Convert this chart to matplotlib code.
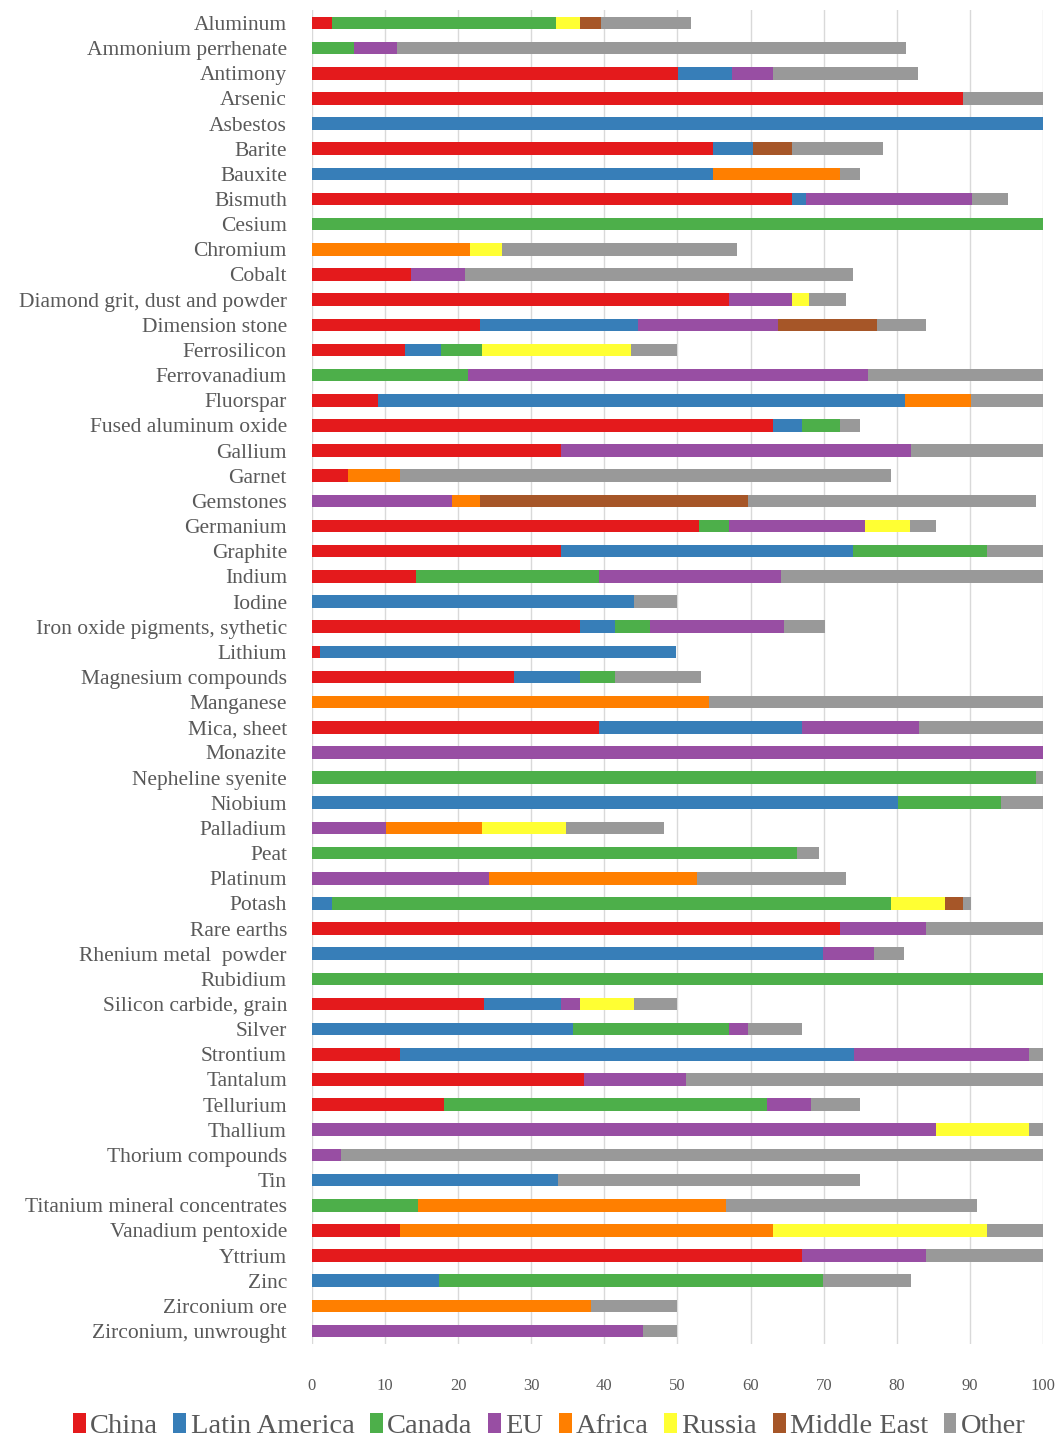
import matplotlib.pyplot as plt
import numpy as np

plt.rcParams['font.family'] = ['Liberation Serif', 'DejaVu Serif']

minerals = ["Aluminum", "Ammonium perrhenate", "Antimony", "Arsenic", "Asbestos", "Barite",
            "Bauxite", "Bismuth", "Cesium", "Chromium", "Cobalt", "Diamond grit, dust and powder",
            "Dimension stone", "Ferrosilicon", "Ferrovanadium", "Fluorspar", "Fused aluminum oxide",
            "Gallium", "Garnet", "Gemstones", "Germanium", "Graphite", "Indium", "Iodine",
            "Iron oxide pigments, sythetic", "Lithium", "Magnesium compounds", "Manganese",
            "Mica, sheet", "Monazite", "Nepheline syenite", "Niobium", "Palladium", "Peat",
            "Platinum", "Potash", "Rare earths", "Rhenium metal  powder", "Rubidium",
            "Silicon carbide, grain", "Silver", "Strontium", "Tantalum", "Tellurium", "Thallium",
            "Thorium compounds", "Tin", "Titanium mineral concentrates", "Vanadium pentoxide",
            "Yttrium", "Zinc", "Zirconium ore", "Zirconium, unwrought"]

china = [2.7, 0, 50.1, 89.1, 0, 54.9, 0, 65.7, 0, 0, 13.6, 57.0, 23.0, 12.7, 0, 9.1, 63.1,
         34.1, 4.9, 0, 53.0, 34.1, 14.2, 0, 36.6, 1.1, 27.7, 0, 39.3, 0, 0, 0, 0, 0, 0, 0,
         72.2, 0, 0, 23.5, 0, 12.0, 37.2, 18.1, 0, 0, 0, 0, 12.0, 67.0, 0, 0, 0]
latin_america = [0, 0, 7.3, 0, 100, 5.4, 54.9, 1.9, 0, 0, 0, 0, 21.6, 5.0, 0, 72.0, 3.9,
                 0, 0, 0, 0, 39.9, 0, 44.0, 4.8, 48.7, 8.9, 0, 27.7, 0, 0, 80.2, 0, 0, 0, 2.7,
                 0, 69.9, 0, 10.6, 35.7, 62.1, 0, 0, 0, 0, 33.7, 0, 0, 0, 17.4, 0, 0]
canada = [30.7, 5.8, 0, 0, 0, 0, 0, 0, 100, 0, 0, 0, 0, 5.5, 21.3, 0, 5.2,
          0, 0, 0, 4.0, 18.3, 25.1, 0, 4.8, 0, 4.8, 0, 0, 0, 99.1, 14.1, 0, 66.4, 0, 76.5,
          0, 0, 100, 0, 21.3, 0, 0, 44.1, 0, 0, 0, 14.5, 0, 0, 52.5, 0, 0]
eu = [0, 5.9, 5.7, 0, 0, 0, 0, 22.7, 0, 0, 7.3, 8.7, 19.2, 0, 54.7, 0, 0,
      47.9, 0, 19.1, 18.6, 0, 24.9, 0, 18.3, 0, 0, 0, 16.0, 100, 0, 0, 10.1, 0, 24.2, 0,
      11.8, 7.0, 0, 2.5, 2.7, 24.0, 13.9, 6.1, 85.3, 4.0, 0, 0, 0, 17.0, 0, 0, 45.3]
africa = [0, 0, 0, 0, 0, 0, 17.3, 0, 0, 21.6, 0, 0, 0, 0, 0, 9.0, 0,
          0, 7.1, 3.9, 0, 0, 0, 0, 0, 0, 0, 54.3, 0, 0, 0, 0, 13.1, 0, 28.4, 0,
          0, 0, 0, 0, 0, 0, 0, 0, 0, 0, 0, 42.1, 51.1, 0, 0, 38.2, 0]
russia = [3.2, 0, 0, 0, 0, 0, 0, 0, 0, 4.4, 0, 2.3, 0, 20.5, 0, 0, 0,
          0, 0, 0, 6.2, 0, 0, 0, 0, 0, 0, 0, 0, 0, 0, 0, 11.5, 0, 0, 7.4,
          0, 0, 0, 7.4, 0, 0, 0, 0, 12.8, 0, 0, 0, 29.2, 0, 0, 0, 0]
middle_east = [2.9, 0, 0, 0, 0, 5.4, 0, 0, 0, 0, 0, 0, 13.5, 0, 0, 0, 0,
               0, 0, 36.7, 0, 0, 0, 0, 0, 0, 0, 0, 0, 0, 0, 0, 0, 0, 0, 2.5,
               0, 0, 0, 0, 0, 0, 0, 0, 0, 0, 0, 0, 0, 0, 0, 0, 0]
other = [12.4, 69.6, 19.8, 10.9, 0, 12.4, 2.8, 4.9, 0, 32.1, 53.1, 5.1, 6.7, 6.3, 24.0, 9.9, 2.8,
         18.0, 67.2, 39.3, 3.5, 7.7, 35.8, 6.0, 5.7, 0, 11.8, 45.7, 17.0, 0, 0.9, 5.7, 13.4, 2.9,
         20.5, 1.0, 16.0, 4.1, 0, 6.0, 7.3, 1.9, 48.9, 6.7, 1.9, 96.0, 41.3, 34.4, 7.7, 16.0,
         12.1, 11.8, 4.7]

regions = ["China", "Latin America", "Canada", "EU", "Africa", "Russia", "Middle East", "Other"]
colors = ["#E41A1C", "#377EB8", "#4DAF4A", "#984EA3", "#FF7F00", "#FFFF33", "#A65628", "#999999"]
series = [china, latin_america, canada, eu, africa, russia, middle_east, other]

fig = plt.figure(figsize=(10.6, 14.39), dpi=100)
ax = fig.add_axes([0.2943, 0.0663, 0.6897, 0.9265])

y = np.arange(len(minerals))
left = np.zeros(len(minerals))
for vals, name, col in zip(series, regions, colors):
    vals = np.array(vals)
    ax.barh(y, vals, left=left, height=0.5, color=col, label=name, zorder=3)
    left += vals

ax.set_ylim(len(minerals) - 0.5, -0.5)
ax.set_xlim(0, 100)
ax.set_xticks(np.arange(0, 101, 10))
ax.set_yticks(y)
ax.set_yticklabels(minerals, fontsize=15.5, color="#595959")
ax.tick_params(axis='x', labelsize=12, colors="#595959", length=0, pad=25)
ax.tick_params(axis='y', length=0, pad=18)
ax.grid(axis='x', color="#d9d9d9", linewidth=1, zorder=0)
for s in ax.spines.values():
    s.set_visible(False)

fig.legend(loc='lower center', bbox_to_anchor=(0.518, -0.018), ncol=8, frameon=False,
           fontsize=20.5, handlelength=0.45, handleheight=0.7, handletextpad=0.15,
           columnspacing=0.55, labelcolor="#595959")

fig.savefig("out.png", dpi=100)
